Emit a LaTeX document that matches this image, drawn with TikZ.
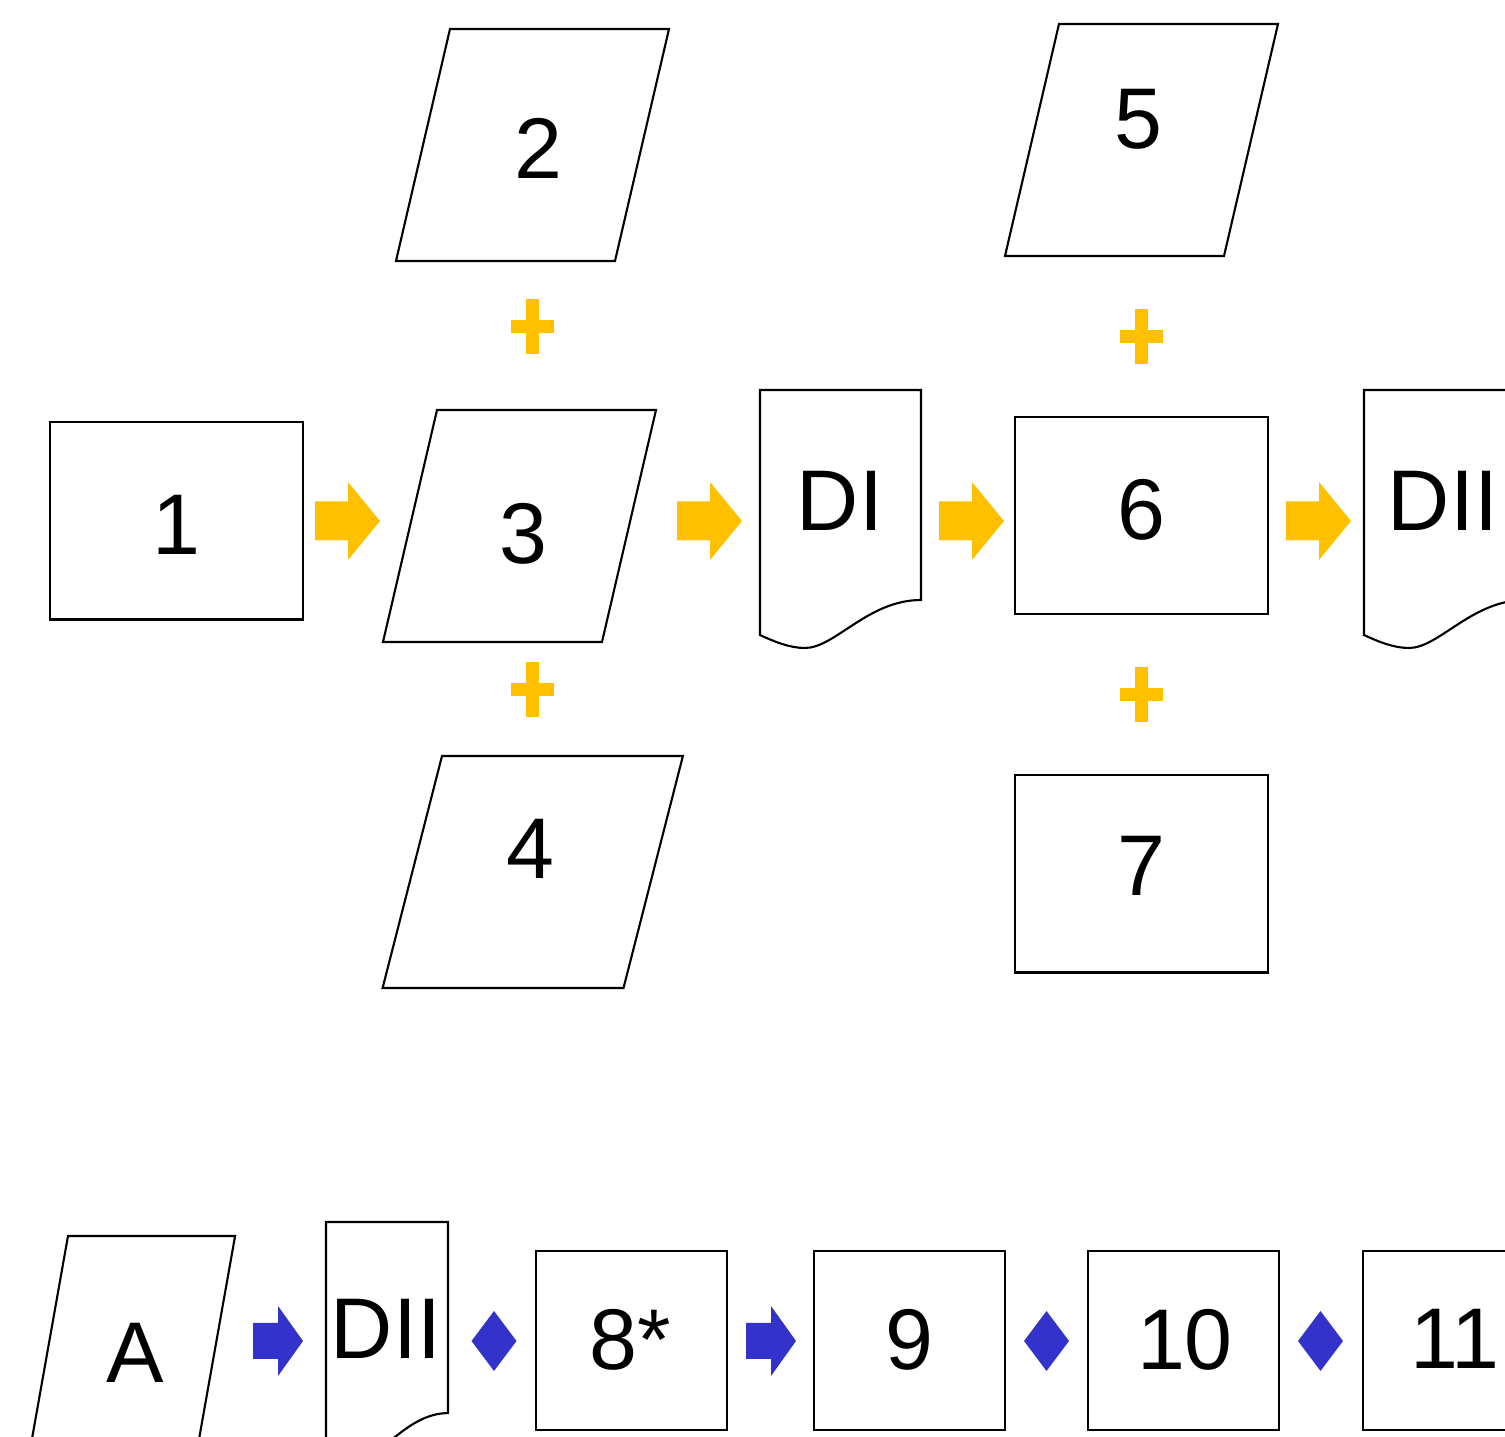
\documentclass[tikz,border=0pt]{standalone}
\usepackage{fontspec}
\setmainfont{Liberation Sans}
\usepackage{tikz}
\usetikzlibrary{calc}

\definecolor{gold}{HTML}{FFC000}
\definecolor{indigo}{HTML}{3333CC}

\begin{document}
\begin{tikzpicture}[
  x=0.01cm, y=-0.01cm,
  trait/.style={draw=black, line width=0.6pt},
  box/.style={trait, rectangle, inner sep=0pt,
    minimum width=2.53cm, minimum height=1.97cm},
  petitbox/.style={box, minimum width=1.91cm, minimum height=1.79cm},
  num/.style={font=\fontsize{24.5}{29}\selectfont, inner sep=0pt},
  para/.pic={
    \draw[trait] (0,0) -- (219,0) -- (165,232) -- (-54,232) -- cycle;
  },
  docu/.pic={
    \draw[trait] (0,0) -- (161,0) -- (161,210)
      .. controls (108,210) and (75,258) .. (45,258)
      .. controls (30,258) and (15,252) .. (0,245) -- cycle;
  },
  fleche/.pic={
    \fill[gold] (-33,-19.5) -- (0,-19.5) -- (0,-39) -- (32,0)
      -- (0,39) -- (0,19.5) -- (-33,19.5) -- cycle;
  },
  flechebleue/.pic={
    \fill[indigo] (-25,-18) -- (0,-18) -- (0,-35) -- (25,0)
      -- (0,35) -- (0,18) -- (-25,18) -- cycle;
  },
  croix/.pic={
    \fill[gold] (-21.5,-6.5) rectangle (21.5,6.5);
    \fill[gold] (-6.5,-27.5) rectangle (6.5,27.5);
  },
  losange/.pic={
    \fill[indigo] (-22.5,0) -- (0,-30) -- (22.5,0) -- (0,30) -- cycle;
  }
]
\useasboundingbox (0,0) rectangle (1505,1437);
\clip (0,0) rectangle (1505,1437);

% --- rangée du haut ---
\node[box] (b1) at (176.5,521) {};
\node[num] (t1) at (176,525) {1};

\pic at (450,29) {para};
\node[num] (t2) at (538,148) {2};
\pic at (437,410) {para};
\node[num] (t3) at (523,534) {3};
\pic[xscale=1.1] at (442,756) {para};
\node[num] (t4) at (530,849) {4};

\pic at (532,327) {croix};
\pic at (532,690) {croix};

\pic at (760,390) {docu};
\node[num] (tdi) at (840,501) {DI};

\pic at (1059,24) {para};
\node[num] (t5) at (1138,119) {5};
\node[box] (b6) at (1141.5,515.5) {};
\node[num] (t6) at (1141,510) {6};
\node[box] (b7) at (1141.5,874) {};
\node[num] (t7) at (1141,866) {7};

\pic at (1141,337) {croix};
\pic at (1141,695) {croix};

\pic at (1364,390) {docu};
\node[num] (tdii) at (1443,501) {DII};

\pic at (348,521) {fleche};
\pic at (710,521) {fleche};
\pic at (972,521) {fleche};
\pic at (1319,521) {fleche};

% --- rangée du bas ---
\pic[xscale=0.763] at (68,1236) {para};
\node[num] (ta) at (135,1353) {A};
\pic[xscale=0.758, yscale=0.91] at (326,1222) {docu};
\node[num] (tdiib) at (386,1329) {DII};

\node[petitbox] (b8) at (631.5,1340.5) {};
\node[num] (t8) at (630,1340) {8*};
\node[petitbox] (b9) at (909.5,1340.5) {};
\node[num] (t9) at (909,1340) {9};
\node[petitbox] (b10) at (1183.5,1340.5) {};
\node[num] (t10) at (1185,1340) {10};
\node[petitbox] (b11) at (1458.5,1340.5) {};
\node[num] (t11) at (1455,1339) {11};

\pic at (278,1341) {flechebleue};
\pic at (771,1341) {flechebleue};
\pic at (494,1341) {losange};
\pic at (1046.5,1341) {losange};
\pic at (1320.5,1341) {losange};

\end{tikzpicture}
\end{document}
